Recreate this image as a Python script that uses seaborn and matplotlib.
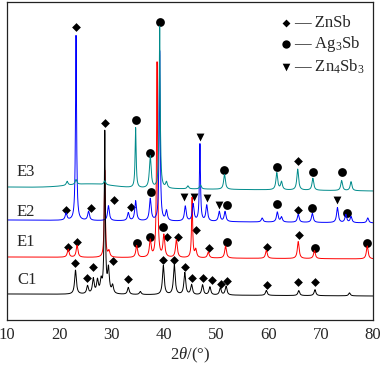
import numpy as np
import pandas as pd
import seaborn as sns
import matplotlib
matplotlib.use('Agg')
import matplotlib.pyplot as plt

sns.set_style('white')
plt.rcParams['font.family'] = ['Liberation Serif', 'DejaVu Serif']
plt.rcParams['mathtext.fontset'] = 'custom'
plt.rcParams['mathtext.rm'] = 'Liberation Serif'
plt.rcParams['mathtext.it'] = 'Liberation Serif:italic'

# sample order (bottom to top), colours and baseline levels (left, right)
samples = ['C1', 'E1', 'E2', 'E3']
colors = ['black', 'red', 'blue', '#008b8b']
base_left = [26, 63, 100, 133]
base_right = [24, 61, 97, 129]

# peaks: (2theta, height above baseline)
peaks_c1 = [(23.1, 24), (25.4, 8), (26.5, 15), (27.3, 13), (28.0, 12), (28.7, 161),
            (29.4, 24), (30.2, 8), (33.2, 7), (35.5, 3), (39.9, 29), (42.0, 30),
            (44.0, 22), (45.3, 10), (47.4, 10), (48.8, 8), (50.8, 7), (51.9, 9),
            (59.6, 5), (65.8, 5), (68.9, 6), (75.5, 3)]
peaks_e1 = [(21.7, 8), (23.4, 12), (28.7, 87), (29.5, 6), (34.8, 12), (37.4, 17),
            (38.7, 195), (40.0, 22), (42.4, 18), (45.4, 60), (46.1, 8), (48.5, 6),
            (51.8, 12), (59.6, 8), (65.7, 17), (68.8, 8), (78.9, 13)]
peaks_e2 = [(21.3, 7), (23.2, 185), (25.6, 9), (29.4, 15), (33.2, 8), (34.6, 20),
            (37.4, 22), (39.2, 170), (40.5, 10), (44.1, 15), (45.6, 17), (46.9, 77),
            (48.2, 16), (50.6, 10), (51.7, 10), (58.8, 4), (61.7, 10), (62.5, 5),
            (65.7, 8), (68.4, 9), (73.2, 15), (74.8, 8), (75.8, 6), (79.0, 5)]
peaks_e3 = [(21.5, 4), (23.2, 5), (28.7, 4), (34.6, 60), (37.4, 32), (39.2, 162),
            (40.5, 6), (44.6, 3), (47.0, 4), (51.6, 15), (61.6, 17), (62.5, 8),
            (65.6, 21), (68.5, 12), (74.0, 10), (75.8, 9)]
hump_e3 = (26, 4, 6)  # centre, height, width of the amorphous hump

# phase markers: 2theta and y
znsb_x = [23.2, 28.7, 65.6, 21.3, 26.1, 30.4, 33.7, 65.7, 21.7, 23.4, 40.6, 42.7,
          46.1, 48.6, 59.7, 65.8, 23.1, 25.3, 26.4, 30.2, 33.1, 39.8, 41.9, 44.0,
          45.4, 47.5, 49.2, 50.9, 52.0, 59.7, 65.7, 68.9]
znsb_y = [293, 197, 159, 110, 112, 120, 113, 110, 73, 78, 83, 83,
          90, 72, 73, 85, 57, 42, 53, 59, 41, 60, 60, 53,
          42, 42, 40, 36, 39, 35, 38, 38]
ag3sb_x = [39.2, 34.6, 37.4, 51.5, 61.6, 68.5, 74.0, 37.5, 52.1, 61.6, 68.3, 75.0,
           34.8, 37.3, 39.8, 52.1, 68.9, 78.8]
ag3sb_y = [298, 200, 167, 150, 153, 148, 148, 128, 115, 116, 112, 107,
           77, 83, 93, 78, 72, 77]
zn4sb3_x = [46.9, 43.8, 45.8, 48.2, 50.5, 73.1]
zn4sb3_y = [183, 123, 123, 122, 115, 120]

two_theta = np.arange(10, 80.001, 0.02)


def pattern(peaks, b0, b1, hump=None):
    y = b0 + (b1 - b0) * (two_theta - 10) / 70
    for c, h in peaks:
        w = 0.12 if h > 50 else 0.2
        y = y + h / (1 + ((two_theta - c) / w) ** 2)
    if hump is not None:
        y = y + hump[1] * np.exp(-((two_theta - hump[0]) / hump[2]) ** 2)
    return y


all_peaks = [peaks_c1, peaks_e1, peaks_e2, peaks_e3]
frames = []
for i, s in enumerate(samples):
    hump = hump_e3 if s == 'E3' else None
    frames.append(pd.DataFrame({'two_theta': two_theta,
                                'I': pattern(all_peaks[i], base_left[i], base_right[i], hump),
                                'sample': s}))
df = pd.concat(frames)

fig = plt.figure(figsize=(3.8, 3.67), dpi=100)
ax = fig.add_axes([7 / 380, 1 - 320 / 367, 366 / 380, 318 / 367])

draw_order = ['E1', 'E2', 'C1', 'E3']
for s in draw_order:
    i = samples.index(s)
    sns.lineplot(data=df[df['sample'] == s], x='two_theta', y='I', color=colors[i],
                 lw=0.7, estimator=None, sort=False, ax=ax)

sns.scatterplot(x=znsb_x, y=znsb_y, marker='D', s=20, color='black', linewidth=0, ax=ax)
sns.scatterplot(x=ag3sb_x, y=ag3sb_y, marker='o', s=40, color='black', linewidth=0, ax=ax)
sns.scatterplot(x=zn4sb3_x, y=zn4sb3_y, marker='v', s=32, color='black', linewidth=0, ax=ax)

label_y = [40, 78, 108, 148]
for s, ly in zip(samples, label_y):
    ax.text(11.9, ly, s, fontsize=12, va='center', ha='left')

legend_items = [('D', 'ZnSb'), ('o', 'Ag$_3$Sb'), ('v', 'Zn$_4$Sb$_3$')]
legend_sizes = [16, 36, 30]
legend_y = [0.934, 0.868, 0.796]
for (m, name), ms, ly in zip(legend_items, legend_sizes, legend_y):
    ax.scatter([0.762], [ly], marker=m, s=ms, color='black',
               linewidth=0, transform=ax.transAxes, clip_on=False)
    ax.text(0.785, ly, '\u2014 ' + name, fontsize=12, va='center', ha='left',
            transform=ax.transAxes)

ax.set_xlim(10, 80)
ax.set_ylim(0, 318)
ax.set_xticks(range(10, 81, 10))
ax.set_yticks([])
ax.tick_params(axis='x', direction='in', length=4, width=0.8, labelsize=12, pad=5)
ax.set_xlabel(r'$\mathit{2\theta}$/(°)', fontsize=12, labelpad=2)
ax.set_ylabel('')
for sp in ax.spines.values():
    sp.set_linewidth(0.9)
    sp.set_color('#222222')

fig.savefig('out.png', dpi=100)
